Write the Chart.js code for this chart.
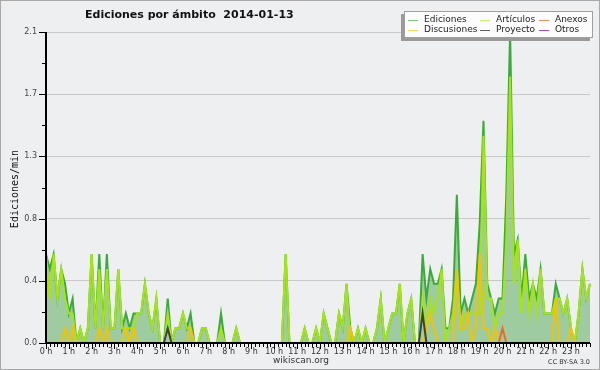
<!DOCTYPE html>
<html>
<head>
<meta charset="utf-8">
<script src="https://cdn.jsdelivr.net/npm/chart.js@4.4.1/dist/chart.umd.min.js"></script>
<style>
  html, body { margin: 0; padding: 0; background: #eeeff0; }
  canvas { display: block; }
</style>
</head>
<body>
<canvas id="graph" width="600" height="370"></canvas>
<script>
// 10-minute slots over the day, values are edits per minute
const slots = [];
for (let h = 0; h < 24; h++) {
    for (let m = 0; m < 60; m += 10) {
        slots.push(h + ':' + (m < 10 ? '0' + m : m));
    }
}
const yTicks = [0, 0.42, 0.84, 1.26, 1.68, 2.1];

const ediciones = [
    0.6, 0.5, 0.6, 0.3, 0.5, 0.4,   // 0 h
    0.2, 0.3, 0, 0.1, 0, 0.1,       // 1 h
    0.6, 0.1, 0.6, 0.1, 0.6, 0.1,   // 2 h
    0.1, 0.5, 0.1, 0.2, 0.1, 0.2,   // 3 h
    0.2, 0.2, 0.4, 0.2, 0.1, 0.3,   // 4 h
    0, 0, 0.3, 0, 0.1, 0.1,         // 5 h
    0.2, 0.1, 0.2, 0, 0, 0.1,       // 6 h
    0.1, 0, 0, 0, 0.2, 0,           // 7 h
    0, 0, 0.1, 0, 0, 0,             // 8 h
    0, 0, 0, 0, 0, 0,               // 9 h
    0, 0, 0, 0.6, 0, 0,             // 10 h
    0, 0, 0.1, 0, 0, 0.1,           // 11 h
    0, 0.2, 0.1, 0, 0, 0.2,         // 12 h
    0.1, 0.4, 0.1, 0, 0.1, 0,       // 13 h
    0.1, 0, 0, 0.1, 0.3, 0,         // 14 h
    0.1, 0.2, 0.2, 0.4, 0, 0.2,     // 15 h
    0.3, 0, 0, 0.6, 0.3, 0.5,       // 16 h
    0.4, 0.4, 0.5, 0.1, 0.1, 0.3,   // 17 h
    1.0, 0.2, 0.3, 0.2, 0.3, 0.4,   // 18 h
    0.8, 1.5, 0.4, 0.3, 0.2, 0.3,   // 19 h
    0.3, 1.0, 2.1, 0.6, 0.7, 0.3,   // 20 h
    0.6, 0.3, 0.4, 0.3, 0.5, 0.2,   // 21 h
    0.2, 0.2, 0.4, 0.3, 0.2, 0.3,   // 22 h
    0.1, 0, 0.2, 0.5, 0.3, 0.4      // 23 h
];
const articulos = [
    0.6, 0.3, 0.6, 0.3, 0.5, 0.3,
    0.2, 0.2, 0, 0.1, 0, 0.1,
    0.6, 0.1, 0.5, 0.1, 0.5, 0.1,
    0.1, 0.5, 0.1, 0.1, 0.1, 0.1,
    0.2, 0.2, 0.4, 0.2, 0.1, 0.3,
    0, 0, 0.2, 0, 0.1, 0.1,
    0.2, 0.1, 0.1, 0, 0, 0.1,
    0.1, 0, 0, 0, 0.1, 0,
    0, 0, 0.1, 0, 0, 0,
    0, 0, 0, 0, 0, 0,
    0, 0, 0, 0.6, 0, 0,
    0, 0, 0.1, 0, 0, 0.1,
    0, 0.2, 0.1, 0, 0, 0.2,
    0.1, 0.4, 0, 0, 0.1, 0,
    0.1, 0, 0, 0.1, 0.3, 0,
    0.1, 0.2, 0.2, 0.4, 0, 0.2,
    0.3, 0, 0, 0.3, 0.1, 0.3,
    0.2, 0.3, 0.5, 0, 0.1, 0.2,
    0.5, 0.1, 0.2, 0.2, 0.2, 0.2,
    0.2, 1.4, 0.3, 0.3, 0.1, 0.2,
    0.2, 0.7, 1.8, 0.4, 0.7, 0.2,
    0.5, 0.2, 0.4, 0.2, 0.5, 0.2,
    0.2, 0.2, 0.3, 0.3, 0.2, 0.3,
    0.1, 0, 0.2, 0.5, 0.3, 0.4
];
const anexos = [
    0, 0, 0, 0, 0, 0,  0, 0, 0, 0, 0, 0,  0, 0, 0, 0, 0, 0,  0, 0, 0, 0, 0, 0,
    0, 0, 0, 0, 0, 0,  0, 0, 0, 0, 0, 0,  0, 0, 0, 0, 0, 0,  0, 0, 0, 0, 0, 0,
    0, 0, 0, 0, 0, 0,  0, 0, 0, 0, 0, 0,  0, 0, 0, 0, 0, 0,  0, 0, 0, 0, 0, 0,
    0, 0, 0, 0, 0, 0,  0, 0, 0, 0, 0, 0,  0, 0, 0, 0, 0, 0,  0, 0, 0, 0, 0, 0,
    0, 0, 0, 0, 0, 0,  0, 0, 0, 0, 0, 0,  0, 0, 0, 0, 0, 0,  0, 0, 0, 0, 0, 0,
    0.1, 0, 0, 0, 0, 0,  0, 0, 0, 0, 0, 0,  0, 0, 0, 0, 0, 0
];
const discusiones = [
    0, 0, 0, 0, 0, 0.1,
    0, 0.1, 0, 0, 0, 0,
    0, 0, 0.1, 0, 0.1, 0,
    0, 0, 0, 0.1, 0, 0.1,
    0, 0, 0, 0, 0, 0,
    0, 0, 0, 0, 0, 0,
    0, 0, 0.1, 0, 0, 0,
    0, 0, 0, 0, 0, 0,
    0, 0, 0, 0, 0, 0,
    0, 0, 0, 0, 0, 0,
    0, 0, 0, 0, 0, 0,
    0, 0, 0, 0, 0, 0,
    0, 0, 0, 0, 0, 0,
    0, 0, 0.1, 0, 0, 0,
    0, 0, 0, 0, 0, 0,
    0, 0, 0, 0, 0, 0,
    0, 0, 0, 0, 0.1, 0.2,
    0.1, 0, 0, 0, 0, 0,
    0.5, 0.1, 0.1, 0.2, 0, 0.1,
    0.6, 0.1, 0.1, 0, 0.1, 0,
    0, 0, 0, 0, 0, 0,
    0, 0, 0, 0, 0, 0,
    0, 0, 0.3, 0, 0, 0,
    0.1, 0, 0, 0, 0, 0
];
const proyecto = [
    0, 0, 0, 0, 0, 0,  0, 0, 0, 0, 0, 0,  0, 0, 0, 0, 0, 0,  0, 0, 0, 0, 0, 0,
    0, 0, 0, 0, 0, 0,  0, 0, 0.1, 0, 0, 0,  0, 0, 0, 0, 0, 0,  0, 0, 0, 0, 0, 0,
    0, 0, 0, 0, 0, 0,  0, 0, 0, 0, 0, 0,  0, 0, 0, 0, 0, 0,  0, 0, 0, 0, 0, 0,
    0, 0, 0, 0, 0, 0,  0, 0, 0, 0, 0, 0,  0, 0, 0, 0, 0, 0,  0, 0, 0, 0, 0, 0,
    0, 0, 0, 0.2, 0, 0,  0, 0, 0, 0, 0, 0,  0, 0, 0, 0, 0, 0,  0, 0, 0, 0, 0, 0,
    0, 0, 0, 0, 0, 0,  0, 0, 0, 0, 0, 0,  0, 0, 0, 0, 0, 0
];
const otros = [
    0, 0, 0, 0, 0, 0,  0, 0, 0, 0, 0, 0,  0, 0, 0, 0, 0, 0,  0, 0, 0, 0, 0, 0,
    0, 0, 0, 0, 0, 0,  0, 0, 0, 0, 0, 0,  0, 0, 0, 0, 0, 0,  0, 0, 0, 0, 0, 0,
    0, 0, 0, 0, 0, 0,  0, 0, 0, 0, 0, 0,  0, 0, 0, 0, 0, 0,  0, 0, 0, 0, 0, 0,
    0, 0, 0, 0, 0, 0,  0, 0, 0, 0, 0, 0,  0, 0, 0, 0, 0, 0,  0, 0, 0, 0, 0, 0,
    0, 0, 0, 0, 0, 0,  0, 0, 0, 0, 0, 0,  0, 0, 0, 0, 0, 0,  0, 0, 0, 0, 0, 0,
    0, 0, 0, 0, 0, 0,  0, 0, 0, 0, 0, 0,  0, 0, 0, 0, 0, 0
];

// legend layout: rows of three, like the original box
const legendRows = [['Ediciones', 'Artículos', 'Anexos'], ['Discusiones', 'Proyecto', 'Otros']];

const decor = {
    id: 'decor',
    beforeDraw(chart) {
        const ctx = chart.ctx;
        ctx.save();
        ctx.fillStyle = '#eeeff0';
        ctx.fillRect(0, 0, chart.width, chart.height);
        ctx.strokeStyle = '#a8a8a8';
        ctx.lineWidth = 1;
        ctx.strokeRect(0.5, 0.5, chart.width - 1, chart.height - 1);
        ctx.restore();
    },
    afterDatasetsDraw(chart) {
        const ctx = chart.ctx;
        const xs = chart.scales.x, ys = chart.scales.y, a = chart.chartArea;
        ctx.save();
        ctx.strokeStyle = '#000';
        ctx.lineWidth = 2;
        ctx.beginPath();
        ctx.moveTo(a.left, a.top);
        ctx.lineTo(a.left, a.bottom);
        ctx.lineTo(a.right, a.bottom);
        ctx.stroke();
        ctx.lineWidth = 1;
        ctx.beginPath();
        for (let k = 0; k < yTicks.length; k++) {
            const py = Math.round(ys.getPixelForValue(yTicks[k])) + 0.5;
            ctx.moveTo(a.left - 7, py);
            ctx.lineTo(a.left, py);
            if (k > 0) {
                const pm = Math.round(ys.getPixelForValue((yTicks[k] + yTicks[k - 1]) / 2)) + 0.5;
                ctx.moveTo(a.left - 4, pm);
                ctx.lineTo(a.left, pm);
            }
        }
        for (let i = 0; i < slots.length; i++) {
            const px = Math.round(xs.getPixelForValue(i)) + 0.5;
            ctx.moveTo(px, a.bottom);
            ctx.lineTo(px, a.bottom + (i % 6 === 0 ? 6 : 4));
        }
        ctx.stroke();
        ctx.restore();
    },
    afterDraw(chart) {
        const ctx = chart.ctx;
        ctx.save();
        // title
        ctx.fillStyle = '#111';
        ctx.font = 'bold 11px "DejaVu Sans"';
        ctx.textBaseline = 'alphabetic';
        ctx.fillText('Ediciones por ámbito  2014-01-13', 85, 18);
        // y axis title
        ctx.save();
        ctx.translate(15, 189);
        ctx.rotate(-Math.PI / 2);
        ctx.textAlign = 'center';
        ctx.textBaseline = 'middle';
        ctx.font = '10px "DejaVu Sans Mono"';
        ctx.fillText('Ediciones/min', 0, 0);
        ctx.restore();
        // footer
        ctx.fillStyle = '#333';
        ctx.textAlign = 'center';
        ctx.textBaseline = 'middle';
        ctx.font = '9px "DejaVu Sans"';
        ctx.fillText('wikiscan.org', 301, 361);
        ctx.textAlign = 'right';
        ctx.font = '6.5px "DejaVu Sans"';
        ctx.fillText('CC BY-SA 3.0', 590, 362);
        // legend box with shadow
        ctx.fillStyle = '#9a9a9a';
        ctx.fillRect(401, 14, 189, 27);
        ctx.fillStyle = '#fcfcfc';
        ctx.fillRect(404, 11, 189, 27);
        ctx.strokeStyle = '#a0a0a0';
        ctx.lineWidth = 1;
        ctx.strokeRect(404.5, 11.5, 188, 26);
        const colX = [408, 480, 539];
        const rowY = [19.5, 29.5];
        ctx.textAlign = 'left';
        ctx.font = '9px "DejaVu Sans"';
        legendRows.forEach((row, r) => {
            row.forEach((name, c) => {
                const ds = chart.data.datasets.find(d => d.label === name);
                const y = Math.round(rowY[r]) + 0.5;
                ctx.strokeStyle = ds.legendColor;
                ctx.beginPath();
                ctx.moveTo(colX[c], y);
                ctx.lineTo(colX[c] + 10, y);
                ctx.stroke();
                ctx.fillStyle = '#222';
                ctx.fillText(name, colX[c] + 16, rowY[r]);
            });
        });
        ctx.restore();
    }
};

const ctx = document.getElementById('graph').getContext('2d');
const myChart = new Chart(ctx, {
    type: 'line',
    data: {
        labels: slots,
        datasets: [
            { label: 'Ediciones', data: ediciones, borderColor: '#3aaa3a', legendColor: '#7cc87c',
              backgroundColor: 'rgba(60,160,60,0.45)', fill: 'origin', order: 6 },
            { label: 'Artículos', data: articulos, borderColor: '#a6e416', legendColor: '#c6ee70', order: 5 },
            { label: 'Anexos', data: anexos, borderColor: '#ee6a2a', legendColor: '#f0905a', order: 1 },
            { label: 'Discusiones', data: discusiones, borderColor: '#f2c400', legendColor: '#f6d860', order: 4 },
            { label: 'Proyecto', data: proyecto, borderColor: '#404040', legendColor: '#606060', order: 3 },
            { label: 'Otros', data: otros, borderColor: '#9a4ee0', legendColor: '#9a4ee0', order: 2 }
        ]
    },
    options: {
        responsive: false,
        animation: false,
        devicePixelRatio: 1,
        layout: { padding: { top: 32, right: 10, left: 0, bottom: 0 } },
        elements: {
            line: { borderWidth: 2, tension: 0, fill: false },
            point: { radius: 0 }
        },
        plugins: {
            legend: { display: false },
            title: { display: false },
            tooltip: { enabled: false }
        },
        scales: {
            x: {
                type: 'category',
                offset: false,
                grid: { display: false, drawTicks: false },
                border: { display: false },
                afterFit: function (scale) { scale.height = 27; },
                ticks: {
                    autoSkip: false,
                    maxRotation: 0,
                    padding: 4,
                    color: '#333',
                    font: { family: 'DejaVu Sans', size: 8 },
                    callback: function (v, i) { return i % 6 === 0 ? (i / 6) + ' h' : ''; }
                }
            },
            y: {
                min: 0,
                max: 2.1,
                afterBuildTicks: function (scale) {
                    scale.ticks = yTicks.map(v => ({ value: v }));
                },
                afterFit: function (scale) { scale.width = 46; },
                grid: { color: '#c8c8c8', lineWidth: 1, drawTicks: false },
                border: { display: false },
                ticks: {
                    padding: 9,
                    color: '#444',
                    font: { family: 'DejaVu Sans', size: 8 },
                    callback: function (v) { return v.toFixed(1); }
                }
            }
        }
    },
    plugins: [decor]
});
</script>
</body>
</html>
